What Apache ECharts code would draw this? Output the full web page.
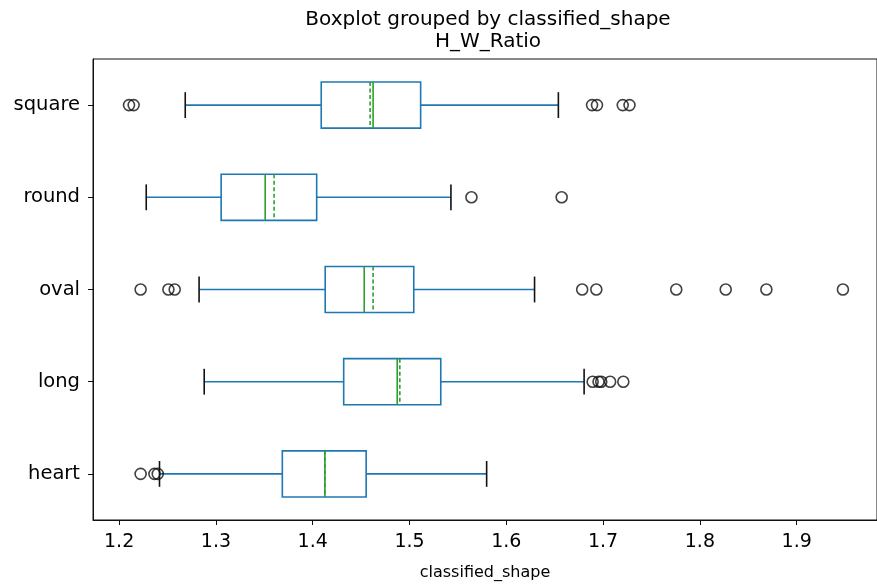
<!DOCTYPE html>
<html>
<head>
<meta charset="utf-8">
<script src="https://cdn.jsdelivr.net/npm/echarts@6/dist/echarts.min.js"></script>
<style>
  html, body { margin: 0; padding: 0; background: #fff; }
  #chart { width: 877px; height: 586px; }
</style>
</head>
<body>
<div id="chart"></div>
<script>
// categories listed bottom -> top
const categories = ['heart', 'long', 'oval', 'round', 'square']
const lowerWhisker = [1.2417, 1.2879, 1.2826, 1.2280, 1.2683]
const q1 = [1.3686, 1.4320, 1.4129, 1.3054, 1.4088]
const median = [1.4126, 1.4873, 1.4532, 1.3509, 1.4624]
const mean = [1.4126, 1.4900, 1.4624, 1.3601, 1.4593]
const q3 = [1.4552, 1.5323, 1.5044, 1.4041, 1.5115]
const upperWhisker = [1.5797, 1.6804, 1.6292, 1.5428, 1.6538]
const outliers = [
  [1.2222, 1.2365, 1.2399],
  [1.6892, 1.6953, 1.6981, 1.7073, 1.7209],
  [1.2222, 1.2509, 1.2574, 1.6784, 1.6930, 1.7756, 1.8267, 1.8687, 1.9478],
  [1.5640, 1.6572],
  [1.2102, 1.2150, 1.6886, 1.6937, 1.7203, 1.7273]
]
const xTicks = [1.2, 1.3, 1.4, 1.5, 1.6, 1.7, 1.8, 1.9]

const FONT = 'DejaVu Sans'
const BLUE = '#1f77b4'
const GREEN = '#2ca02c'

const boxData = categories.map((c, i) => [i, lowerWhisker[i], q1[i], median[i], mean[i], q3[i], upperWhisker[i]])
const flierData = []
outliers.forEach((list, i) => list.forEach(v => flierData.push([v, i])))

const chart = echarts.init(document.getElementById('chart'))

const renderBox = (params, api) => {
  const ci = api.value(0)
  const band = api.size([0, 1])[1]
  const half = band * 0.25
  const capHalf = band * 0.14
  const yc = api.coord([api.value(2), ci])[1]
  const px = v => api.coord([v, ci])[0]
  const lo = px(api.value(1)), b1 = px(api.value(2)), md = px(api.value(3))
  const mn = px(api.value(4)), b3 = px(api.value(5)), hi = px(api.value(6))
  const blue = { stroke: BLUE, lineWidth: 1.6, fill: null }
  const black = { stroke: '#111', lineWidth: 1.6 }
  return {
    type: 'group',
    children: [
      { type: 'line', shape: { x1: lo, y1: yc, x2: b1, y2: yc }, style: blue },
      { type: 'line', shape: { x1: b3, y1: yc, x2: hi, y2: yc }, style: blue },
      { type: 'line', shape: { x1: lo, y1: yc - capHalf, x2: lo, y2: yc + capHalf }, style: black },
      { type: 'line', shape: { x1: hi, y1: yc - capHalf, x2: hi, y2: yc + capHalf }, style: black },
      { type: 'rect', shape: { x: b1, y: yc - half, width: b3 - b1, height: half * 2 }, style: blue },
      { type: 'line', shape: { x1: mn, y1: yc - half, x2: mn, y2: yc + half },
        style: { stroke: GREEN, lineWidth: 1.6, lineDash: [4, 2.5] } },
      { type: 'line', shape: { x1: md, y1: yc - half, x2: md, y2: yc + half },
        style: { stroke: GREEN, lineWidth: 1.6 } }
    ]
  }
}

const option = {
  animation: false,
  backgroundColor: '#fff',
  textStyle: { fontFamily: FONT },
  graphic: [
    { type: 'text', x: 488, y: 20, style: { text: 'Boxplot grouped by classified_shape', font: '20px "DejaVu Sans"', fill: '#000', align: 'center', verticalAlign: 'middle' } },
    { type: 'text', x: 488, y: 42, style: { text: 'H_W_Ratio', font: '20px "DejaVu Sans"', fill: '#000', align: 'center', verticalAlign: 'middle' } }
  ],
  grid: {
    left: 93, top: 59, width: 791, height: 465,
    show: true, borderColor: '#111', borderWidth: 1, backgroundColor: 'transparent'
  },
  xAxis: {
    type: 'value',
    min: 1.173,
    max: 1.983,
    name: 'classified_shape',
    nameLocation: 'middle',
    nameGap: 45,
    nameTextStyle: { fontFamily: FONT, fontSize: 16, color: '#000' },
    axisLine: { show: true, lineStyle: { color: '#111', width: 1 } },
    axisTick: { show: true, length: 5, customValues: xTicks, lineStyle: { color: '#111' } },
    axisLabel: {
      customValues: xTicks, margin: 13, fontFamily: FONT, fontSize: 19, color: '#000',
      formatter: v => v.toFixed(1)
    },
    splitLine: { show: false }
  },
  yAxis: {
    type: 'category',
    data: categories,
    boundaryGap: true,
    axisLine: { show: true, lineStyle: { color: '#111', width: 1 } },
    axisTick: { show: true, length: 5, alignWithLabel: true, lineStyle: { color: '#111' } },
    axisLabel: { margin: 13, fontFamily: FONT, fontSize: 19.5, color: '#000' },
    splitLine: { show: false }
  },
  series: [
    {
      type: 'custom',
      renderItem: renderBox,
      data: boxData,
      encode: { x: [1, 2, 3, 4, 5, 6], y: 0 },
      z: 2
    },
    {
      type: 'scatter',
      data: flierData,
      symbol: 'circle',
      symbolSize: 11,
      itemStyle: { color: 'transparent', borderColor: '#111', borderWidth: 1.6 },
      z: 3
    }
  ]
}

chart.setOption(option)
</script>
</body>
</html>
